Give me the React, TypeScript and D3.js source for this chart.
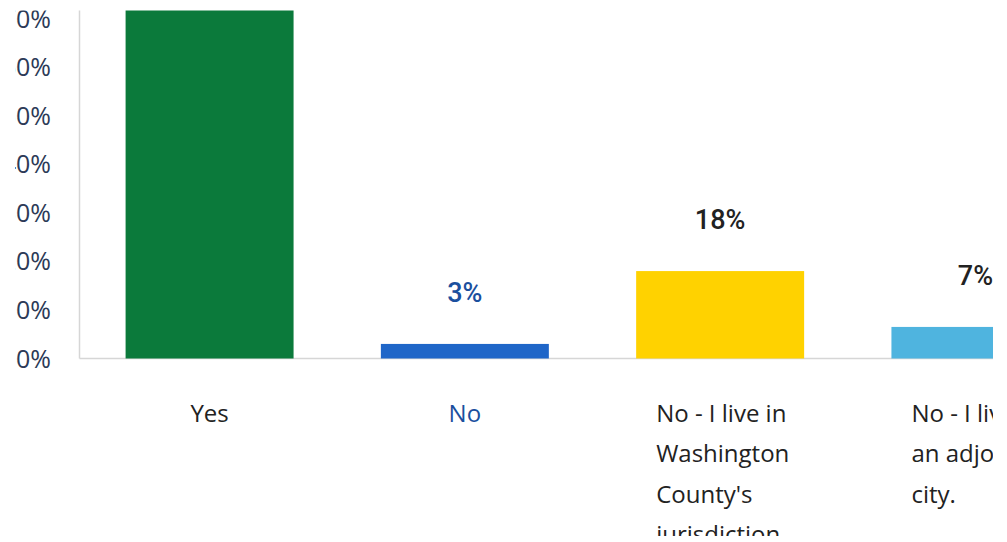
import React, { useMemo } from "react";
import * as d3 from "d3";

const categories = [
  "Yes",
  "No",
  "No - I live in Washington County's jurisdiction",
  "No - I live in an adjoining city.",
];
const categoryLines = [
  ["Yes"],
  ["No"],
  ["No - I live in", "Washington", "County's", "jurisdiction"],
  ["No - I live in", "an adjoining", "city."],
];
const values = [72, 3, 18, 6.5];
const valueLabels = ["72%", "3%", "18%", "7%"];
const barColors = ["#0b7a3b", "#1f66c8", "#ffd200", "#4fb4df"];
const labelColors = ["#222222", "#1b4f9e", "#222222", "#222222"];
const yTicks = [0, 10, 20, 30, 40, 50, 60, 70, 80, 90, 100];

const W = 1007;
const H = 542;
const CAT_FONT = "24px 'Open Sans'";
const WRAP_WIDTH = 128;

export default function App() {
  const x = d3
    .scaleBand<string>()
    .domain(categories)
    .range([79, 1106])
    .paddingInner(0.342)
    .paddingOuter(0.1825);
  const y = d3.scaleLinear().domain([0, 100]).range([358.5, 358.5 - 485.7]);

  const measure = useMemo(() => {
    const c = document.createElement("canvas").getContext("2d");
    return (s: string) => {
      if (!c) return s.length * 12;
      c.font = CAT_FONT;
      return c.measureText(s).width;
    };
  }, []);

  const axisX = x.range()[0] + 0.5;

  return (
    <svg
      width={W}
      height={H}
      style={{ position: "absolute", left: 0, top: 0, background: "#fff" }}
    >
      <defs>
        <clipPath id="crop">
          <rect x={15} y={10.5} width={978} height={525.5} />
        </clipPath>
      </defs>
      <rect x={0} y={0} width={W} height={H} fill="#fff" />
      <g clipPath="url(#crop)">
        {yTicks.map((t) => (
          <text
            key={t}
            x={51}
            y={y(t)}
            dy="0.36em"
            textAnchor="end"
            fontFamily="'Open Sans', sans-serif"
            fontSize={25}
            fill="#2c3a57"
          >
            {t}%
          </text>
        ))}
        <line x1={axisX} x2={axisX} y1={y(0)} y2={y(100)} stroke="#d6d6d6" strokeWidth={1.5} />
        <line x1={axisX} x2={x.range()[1]} y1={y(0)} y2={y(0)} stroke="#d6d6d6" strokeWidth={1.5} />
        {categories.map((c, i) => (
          <rect
            key={c}
            x={x(c)}
            y={y(values[i])}
            width={x.bandwidth()}
            height={y(0) - y(values[i])}
            fill={barColors[i]}
          />
        ))}
        {categories.map((c, i) => (
          <text
            key={"v" + c}
            x={(x(c) as number) + x.bandwidth() / 2}
            y={y(values[i]) - 42}
            textAnchor="middle"
            fontFamily="Roboto, sans-serif"
            fontWeight={500}
            fontSize={27}
            fill={labelColors[i]}
          >
            {valueLabels[i]}
          </text>
        ))}
        {categories.map((c, i) => {
          const lines = categoryLines[i];
          const bw = Math.min(WRAP_WIDTH, Math.max(...lines.map(measure)));
          const cx = (x(c) as number) + x.bandwidth() / 2;
          return (
            <text
              key={"c" + c}
              x={cx - bw / 2}
              y={421.5}
              fontFamily="'Open Sans', sans-serif"
              fontSize={24}
              fill={labelColors[i]}
            >
              {lines.map((l, j) => (
                <tspan key={j} x={cx - bw / 2} dy={j === 0 ? 0 : 40.5}>
                  {l}
                </tspan>
              ))}
            </text>
          );
        })}
      </g>
    </svg>
  );
}
